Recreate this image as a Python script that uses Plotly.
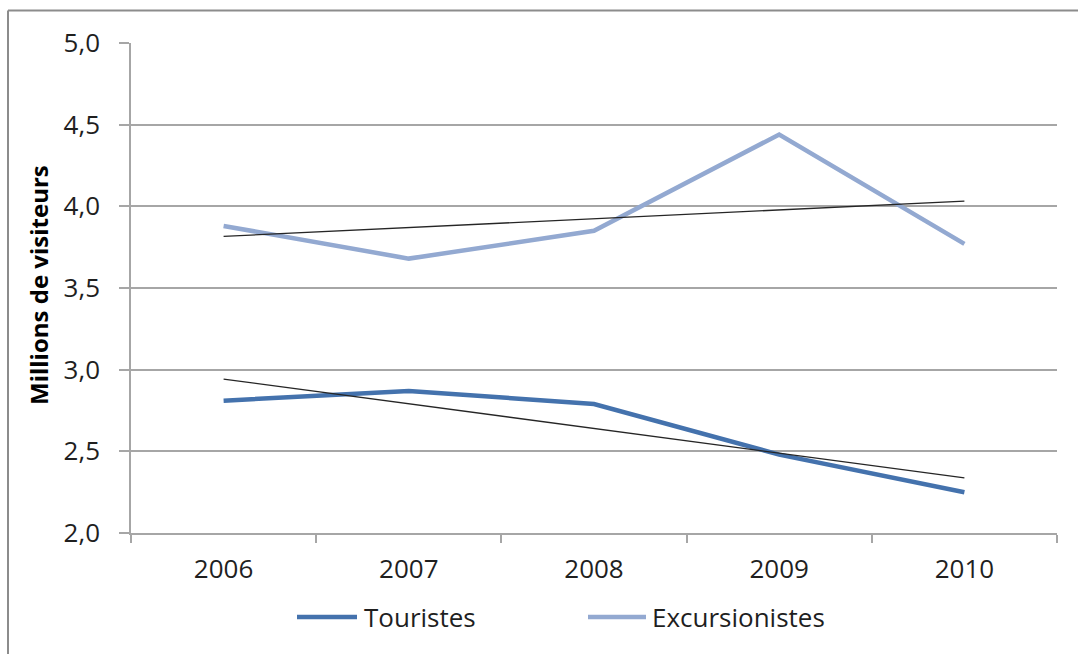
import numpy as np
import plotly.graph_objects as go

years = ["2006", "2007", "2008", "2009", "2010"]
touristes = [2.81, 2.87, 2.79, 2.48, 2.25]
excursionistes = [3.88, 3.68, 3.85, 4.44, 3.77]
y_ticks = [2.0, 2.5, 3.0, 3.5, 4.0, 4.5, 5.0]

series_names = ["Touristes", "Excursionistes"]
series_colors = ["#4472AD", "#93A9D1"]

FONT = "Open Sans"
GRID = "#A6A6A6"
TEXT = "#1F1F1F"

# plot area in pixels
W, H = 1078, 654
L, R, T, B = 131, 21, 43, 121
PW, PH = W - L - R, H - T - B


def px_x(x):
    return (x - L) / PW


def px_y(y):
    return (H - B - y) / PH


def linear_trend(values):
    idx = np.arange(len(values))
    slope, intercept = np.polyfit(idx, values, 1)
    return list(slope * idx + intercept)


fig = go.Figure()

for name, values, color in zip(series_names, [touristes, excursionistes], series_colors):
    fig.add_trace(go.Scatter(
        x=years, y=values, name=name, mode="lines",
        line=dict(color=color, width=4.5),
    ))

# linear trend lines for both series
for series in (excursionistes, touristes):
    fig.add_trace(go.Scatter(
        x=years, y=linear_trend(series), mode="lines", showlegend=False,
        line=dict(color="#262626", width=1.3), hoverinfo="skip",
    ))

# outer chart frame (left and top edges)
frame = dict(color="#8C8C8C", width=2)
fig.add_shape(type="line", xref="paper", yref="paper",
              x0=px_x(8), x1=px_x(8), y0=px_y(H + 5), y1=px_y(10.5), line=frame)
fig.add_shape(type="line", xref="paper", yref="paper",
              x0=px_x(8), x1=px_x(W + 5), y0=px_y(10.5), y1=px_y(10.5), line=frame)

# legend: wide line samples followed by the series names
legend_entries = [(297, 357, 362), (588, 646, 650)]
legend_y = 617
for (s0, s1, tx), name, color in zip(legend_entries, series_names, series_colors):
    fig.add_shape(type="line", xref="paper", yref="paper",
                  x0=px_x(s0), x1=px_x(s1), y0=px_y(legend_y), y1=px_y(legend_y),
                  line=dict(color=color, width=4.5))
    fig.add_annotation(xref="paper", yref="paper", x=px_x(tx), y=px_y(legend_y),
                       xanchor="left", yanchor="middle", showarrow=False,
                       text=name, font=dict(family=FONT, size=26, color=TEXT))

# vertical axis title
fig.add_annotation(xref="paper", yref="paper", x=px_x(38), y=px_y(285),
                   xanchor="center", yanchor="middle", showarrow=False,
                   textangle=-90, text="<b>Millions de visiteurs</b>",
                   font=dict(family=FONT, size=24, color="#000000"))

fig.update_layout(
    width=W, height=H,
    margin=dict(l=L, r=R, t=T, b=B),
    paper_bgcolor="white", plot_bgcolor="white",
    separators=", ",
    font=dict(family=FONT, color=TEXT, size=22),
    showlegend=False,
    xaxis=dict(
        type="category", range=[-0.5, 4.5],
        showgrid=False, showline=True, linecolor=GRID, linewidth=1.5,
        ticks="outside", tickson="boundaries", ticklen=8, tickcolor=GRID,
        tickwidth=1.5, ticklabelstandoff=12,
        tickfont=dict(family=FONT, size=26, color=TEXT),
        zeroline=False,
    ),
    yaxis=dict(
        range=[2.0, 5.0], tickvals=y_ticks, tickformat=".1f",
        showgrid=True, gridcolor=GRID, gridwidth=1.5,
        showline=True, linecolor=GRID, linewidth=1.5,
        ticks="outside", ticklen=10, tickcolor=GRID, tickwidth=1.5,
        ticklabelstandoff=14,
        tickfont=dict(family=FONT, size=26, color=TEXT),
        zeroline=False,
    ),
)

fig.write_html("out.html")
